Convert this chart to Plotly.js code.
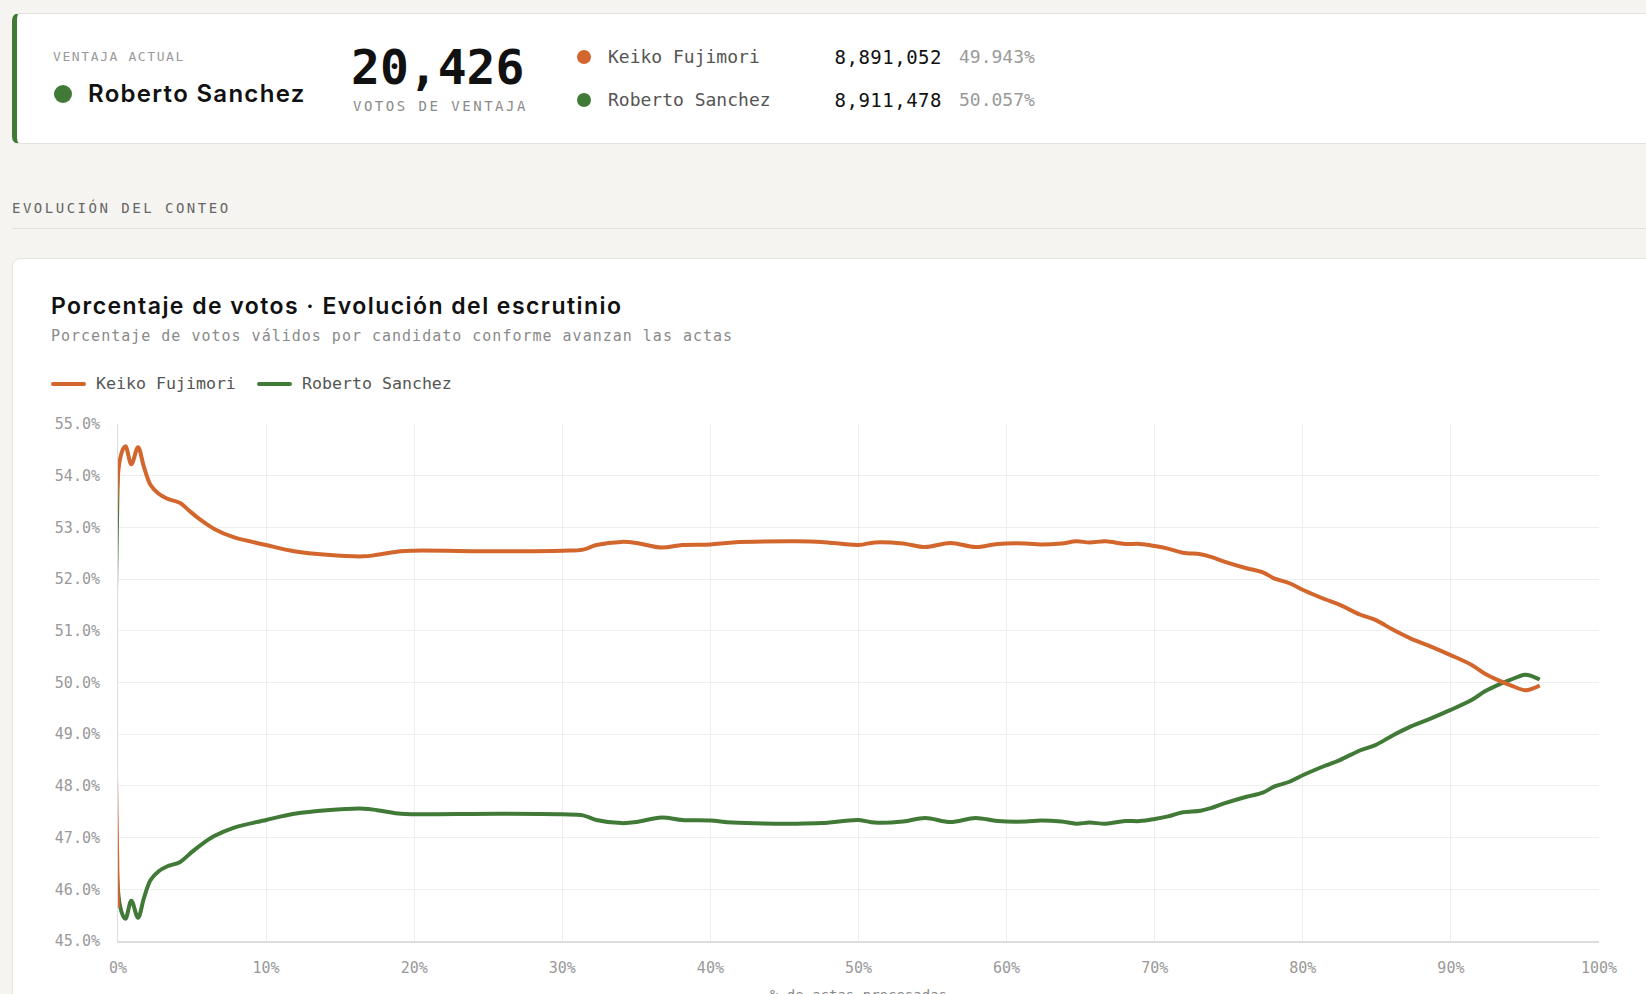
<!DOCTYPE html>
<html>
<head>
<meta charset="utf-8">
<script src="https://cdn.plot.ly/plotly-3.0.1.min.js"></script>
<style>
  html, body { margin: 0; padding: 0; background: #f5f4f0; width: 1646px; height: 994px; overflow: hidden; }
  body { position: relative; font-family: "DejaVu Sans Mono", monospace; }
  .abs { position: absolute; white-space: nowrap; }
  .mono { font-family: "DejaVu Sans Mono", monospace; }
  .sans { font-family: "Inter", "Noto Sans", sans-serif; }
  #topcard { left: 12px; top: 13px; width: 1700px; height: 131px; background: #fff; border: 1px solid #e4e2dc; border-left: 5px solid #417a37; border-radius: 7px; box-sizing: border-box; }
  #chartcard { left: 12px; top: 258px; width: 1700px; height: 800px; background: #fff; border: 1px solid #e4e2dc; border-radius: 8px; box-sizing: border-box; }
  #divider { left: 12px; top: 228px; width: 1700px; height: 1px; background: #e2e0da; }
  .dot { position: absolute; border-radius: 50%; }
  .lg { position: absolute; height: 4px; width: 35px; border-radius: 2px; }
  #plot { position: absolute; left: 13px; top: 350px; width: 1646px; height: 700px; }
</style>
</head>
<body>
<div id="topcard" class="abs"></div>
<div class="abs mono" style="left:53px; top:48px; line-height:18px; font-size:13px; letter-spacing:1.6px; color:#9a9a9a;">VENTAJA ACTUAL</div>
<div class="dot" style="left:54px; top:85px; width:18px; height:18px; background:#417a37;"></div>
<div class="abs sans" style="left:88px; top:78px; line-height:32px; font-size:24px; font-weight:600; color:#111; letter-spacing:1.3px;">Roberto Sanchez</div>
<div class="abs mono" style="left:351px; top:38px; line-height:58px; font-size:48px; font-weight:bold; color:#111;">20,426</div>
<div class="abs mono" style="left:353px; top:97px; line-height:18px; font-size:14px; letter-spacing:2.5px; color:#8a8a8a;">VOTOS DE VENTAJA</div>

<div class="dot" style="left:577px; top:50px; width:14px; height:14px; background:#d3662c;"></div>
<div class="abs mono" style="left:608px; top:45px; line-height:24px; font-size:18px; color:#555;">Keiko Fujimori</div>
<div class="abs mono" style="right:704px; top:45px; line-height:24px; font-size:19px; letter-spacing:0.5px; color:#111;">8,891,052</div>
<div class="abs mono" style="left:959px; top:45px; line-height:24px; font-size:18px; color:#9a9a9a;">49.943%</div>

<div class="dot" style="left:577px; top:93px; width:14px; height:14px; background:#417a37;"></div>
<div class="abs mono" style="left:608px; top:88px; line-height:24px; font-size:18px; color:#555;">Roberto Sanchez</div>
<div class="abs mono" style="right:704px; top:88px; line-height:24px; font-size:19px; letter-spacing:0.5px; color:#111;">8,911,478</div>
<div class="abs mono" style="left:959px; top:88px; line-height:24px; font-size:18px; color:#9a9a9a;">50.057%</div>

<div class="abs mono" style="left:12px; top:199px; line-height:18px; font-size:14px; letter-spacing:2.5px; color:#666;">EVOLUCIÓN DEL CONTEO</div>
<div id="divider" class="abs"></div>

<div id="chartcard" class="abs"></div>
<div class="abs sans" style="left:51px; top:290px; line-height:32px; font-size:23px; font-weight:600; color:#111; letter-spacing:1.45px;">Porcentaje de votos · Evolución del escrutinio</div>
<div class="abs mono" style="left:51px; top:327px; line-height:18px; font-size:15px; letter-spacing:1px; color:#8a8a8a;">Porcentaje de votos válidos por candidato conforme avanzan las actas</div>

<div class="lg" style="left:51px; top:382px; background:#d3662c;"></div>
<div class="abs mono" style="left:96px; top:373px; line-height:22px; font-size:16.6px; color:#555;">Keiko Fujimori</div>
<div class="lg" style="left:257px; top:382px; background:#417a37;"></div>
<div class="abs mono" style="left:302px; top:373px; line-height:22px; font-size:16.6px; color:#555;">Roberto Sanchez</div>

<div id="plot"></div>

<script>
// % de actas procesadas
const actas = [0, 0.12, 0.5, 0.9, 1.35, 1.75, 2.2, 2.75, 3.3, 4.2, 4.9, 5.6, 6.5, 7.8, 10, 11.9, 14.1, 16.6, 17.5, 19.1, 20, 25.8, 30, 31.4, 32.3, 34, 35, 36.7, 38.1, 40, 41.5, 45.8, 47.5, 50, 51.1, 53, 54.5, 56.2, 57.9, 59.4, 61.3, 62.3, 63.7, 64.7, 65.6, 66.7, 68, 69, 70, 70.9, 71.9, 73.1, 73.8, 74.8, 76.2, 77.3, 78.1, 79.1, 80.1, 81.5, 82.5, 83.9, 84.9, 86.1, 87.3, 88.7, 89.9, 91.4, 92.3, 93.3, 94, 95, 95.5, 96];

// Keiko Fujimori, % votos válidos
const keiko = [45.65, 54.3, 54.57, 54.22, 54.55, 54.17, 53.82, 53.65, 53.56, 53.47, 53.3, 53.14, 52.97, 52.81, 52.66, 52.54, 52.47, 52.44, 52.47, 52.54, 52.55, 52.54, 52.55, 52.57, 52.66, 52.72, 52.7, 52.61, 52.66, 52.67, 52.71, 52.73, 52.72, 52.66, 52.71, 52.69, 52.62, 52.7, 52.62, 52.68, 52.69, 52.67, 52.69, 52.73, 52.71, 52.73, 52.68, 52.68, 52.64, 52.59, 52.51, 52.48, 52.43, 52.33, 52.21, 52.13, 52.01, 51.92, 51.78, 51.61, 51.5, 51.31, 51.21, 51.02, 50.85, 50.69, 50.54, 50.34, 50.17, 50.03, 49.95, 49.85, 49.88, 49.943];

// Roberto Sanchez, % votos válidos
const sanchez = [54.33, 45.7, 45.43, 45.78, 45.45, 45.83, 46.18, 46.35, 46.44, 46.53, 46.7, 46.86, 47.03, 47.19, 47.34, 47.46, 47.53, 47.56, 47.53, 47.46, 47.45, 47.46, 47.45, 47.43, 47.34, 47.28, 47.3, 47.39, 47.34, 47.33, 47.29, 47.27, 47.28, 47.34, 47.29, 47.31, 47.38, 47.3, 47.38, 47.32, 47.31, 47.33, 47.31, 47.27, 47.29, 47.27, 47.32, 47.32, 47.36, 47.41, 47.49, 47.52, 47.57, 47.67, 47.79, 47.87, 47.99, 48.08, 48.22, 48.39, 48.5, 48.69, 48.79, 48.98, 49.15, 49.31, 49.46, 49.66, 49.83, 49.97, 50.05, 50.15, 50.12, 50.057];

const names = ["Keiko Fujimori", "Roberto Sanchez"];
const colors = ["#d3662c", "#417a37"];

const MONO = "DejaVu Sans Mono, monospace";

const traces = [sanchez, keiko].map((ys, k) => {
  const i = 1 - k;
  return {
    type: "scatter",
    mode: "lines",
    x: actas,
    y: ys,
    name: names[i],
    line: { color: colors[i], width: 4, shape: "spline", smoothing: 1 },
    hoverinfo: "skip"
  };
});

const layout = {
  width: 1646,
  height: 700,
  margin: { l: 105, r: 60, t: 74, b: 109 },
  paper_bgcolor: "rgba(0,0,0,0)",
  plot_bgcolor: "#ffffff",
  showlegend: false,
  xaxis: {
    range: [0, 100],
    dtick: 10,
    ticksuffix: "%",
    showgrid: true,
    gridcolor: "#eeeeee",
    gridwidth: 1,
    zeroline: false,
    showline: true,
    linecolor: "#dddddd",
    linewidth: 2,
    ticks: "",
    ticklabelstandoff: 12,
    tickfont: { family: MONO, size: 15, color: "#999" },
    title: { text: "% de actas procesadas", font: { family: MONO, size: 14, color: "#888" }, standoff: 14 }
  },
  yaxis: {
    range: [45, 55],
    dtick: 1,
    tickformat: ".1f",
    ticksuffix: "%",
    showgrid: true,
    gridcolor: "#eeeeee",
    gridwidth: 1,
    zeroline: false,
    showline: true,
    linecolor: "#dddddd",
    linewidth: 1,
    ticks: "",
    ticklabelstandoff: 14,
    tickfont: { family: MONO, size: 15, color: "#999" }
  }
};

Plotly.newPlot("plot", traces, layout, { staticPlot: true, displayModeBar: false });
</script>
</body>
</html>
